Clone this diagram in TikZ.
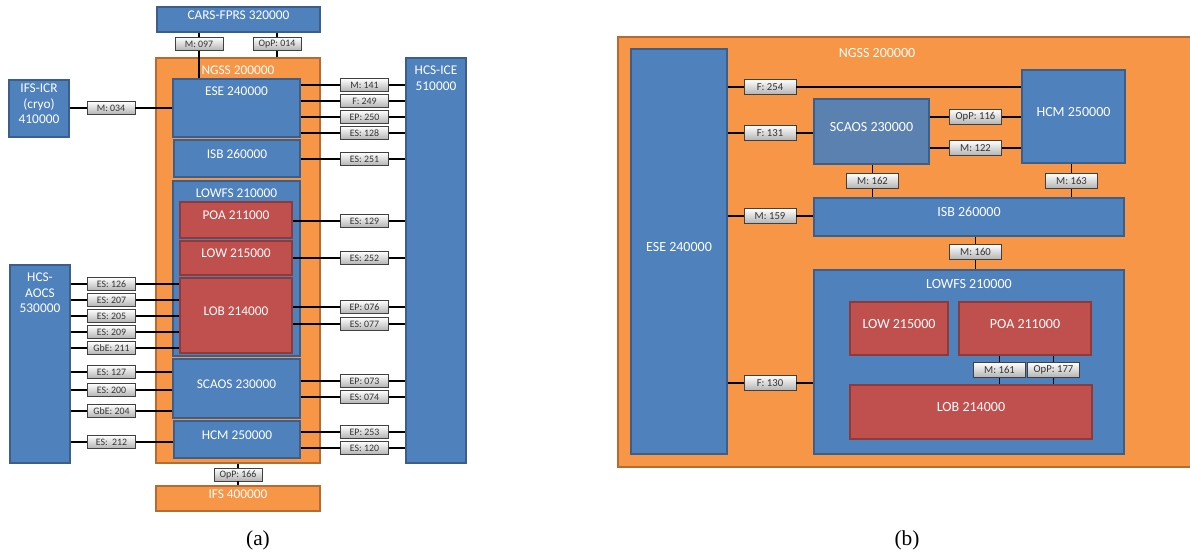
\documentclass[tikz,border=0pt]{standalone}
\usepackage{fontspec}
\setmainfont{Carlito}
\newfontfamily\capfont{Liberation Serif}
\usetikzlibrary{fit,shadows}
\definecolor{orF}{HTML}{F79646}
\definecolor{orD}{HTML}{B86B30}
\definecolor{blF}{HTML}{4F81BD}
\definecolor{blD}{HTML}{3A5F8C}
\definecolor{blS}{HTML}{5B81B1}
\definecolor{rdF}{HTML}{C0504D}
\definecolor{rdD}{HTML}{8E3A38}
\tikzset{
  boxbase/.style={rectangle, inner sep=0pt, line width=1pt, text=white, font=\fontsize{10}{11.6}\selectfont, align=center},
  ora/.style={boxbase, fill=orF, draw=orD},
  blu/.style={boxbase, fill=blF, draw=blD},
  blus/.style={boxbase, fill=blS, draw=blD},
  red/.style={boxbase, fill=rdF, draw=rdD},
  big/.style={font=\fontsize{10.5}{12}\selectfont},
  ttl/.style={text=white, font=\fontsize{10}{11.6}\selectfont, inner sep=0pt, align=center},
  lbl/.style={rectangle, inner sep=0pt, top color=white, bottom color=black!30, draw=black!75, line width=0.6pt,
    font=\fontsize{7.4}{8}\selectfont, text=black!80, minimum width=36pt, minimum height=9.75pt,
    drop shadow={shadow xshift=0.6pt, shadow yshift=-0.6pt, opacity=0.45}},
  lblb/.style={lbl, minimum width=39pt, minimum height=11.25pt, font=\fontsize{8}{9}\selectfont},
  conn/.style={draw=black, line width=0.9pt},
  capt/.style={font=\capfont\fontsize{16}{18}\selectfont, inner sep=0pt}
}
\begin{document}
\begin{tikzpicture}[x=0.75pt,y=-0.75pt]
\useasboundingbox (0,0) rectangle (1190,556);
\begin{scope}
\clip (0,0) rectangle (1190,556);
% ================= (a) =================
\node[ora, fit={(156,58)(320,463)}] (ngss) {};
\node[ttl] (ngssT) at (238,70) {NGSS 200000};
\node[blu, fit={(157,7)(320,32)}] (cars) {CARS-FPRS 320000};
\node[blu, fit={(173,79)(300,137)}] (ese) {};
\node[ttl] (eseT) at (236.5,91) {ESE 240000};
\node[blu, fit={(174,140)(300,177)}] (isb) {ISB 260000};
\node[blu, fit={(173,181)(300,356)}] (lowfs) {};
\node[ttl] (lowfsT) at (236.5,193) {LOWFS 210000};
\node[red, fit={(180,202)(292,238)}] (poa) {POA 211000};
\node[red, fit={(180,241)(292,275)}] (low) {LOW 215000};
\node[red, fit={(180,278)(292,353)}] (lob) {LOB 214000};
\node[blu, fit={(173,359)(300,418)}] (scaos) {SCAOS 230000};
\node[blu, fit={(174,421)(300,458)}] (hcm) {HCM 250000};
\node[blu, fit={(9,80)(69,137)}] (ifsicr) {IFS-ICR\\(cryo)\\410000};
\node[blu, fit={(10,265)(70,463)}] (aocs) {};
\node[ttl] (aocsT) at (40,293) {HCS-\\AOCS\\530000};
\node[blu, fit={(406,58)(466,463)}] (ice) {};
\node[ttl] (iceT) at (436,78) {HCS-ICE\\510000};
\node[ora, fit={(156,486)(320,511)}] (ifs) {IFS 400000};

% top labels
\node[lbl] (m097) at (199,44) {M: 097};
\node[lbl] (opp014) at (277,44) {OpP: 014};
\draw[conn] (cars.south -| m097) -- (m097.north);
\draw[conn] (m097.south) -- (ese.north -| m097);
\draw[conn] (cars.south -| opp014) -- (opp014.north);
\draw[conn] (opp014.south) -- (ngss.north -| opp014);
% bottom label
\node[lbl] (opp166) at (238,474.5) {OpP: 166};
\draw[conn] (ngss.south -| opp166) -- (opp166.north);
\draw[conn] (opp166.south) -- (ifs.north -| opp166);

% left labels
\foreach \n/\t/\y/\dst in {m034/M: 034/108/ese}{
  \node[lbl] (\n) at (111,\y) {\t};
  \draw[conn] (ifsicr.east |- \n) -- (\n.west);
  \draw[conn] (\n.east) -- (\dst.west |- \n);
}
\foreach \n/\t/\y/\dst in {es126/ES: 126/284/lob, es207/ES: 207/300/lob, es205/ES: 205/316/lob,
  es209/ES: 209/332/lob, gbe211/GbE: 211/348/lob, es127/ES: 127/372/scaos, es200/ES: 200/390/scaos,
  gbe204/GbE: 204/411/scaos, es212/ES:\ \ 212/442/hcm}{
  \node[lbl] (\n) at (111.5,\y) {\t};
  \draw[conn] (aocs.east |- \n) -- (\n.west);
  \draw[conn] (\n.east) -- (\dst.west |- \n);
}
% right labels
\foreach \n/\t/\y/\src in {m141/M: 141/85/ese, f249/F: 249/101/ese, ep250/EP: 250/117/ese, es128/ES: 128/133/ese,
  es251/ES: 251/159/isb, es129/ES: 129/221/poa, es252/ES: 252/258/low, ep076/EP: 076/307/lob, es077/ES: 077/324/lob,
  ep073/EP: 073/381/scaos, es074/ES: 074/397/scaos, ep253/EP: 253/432/hcm, es120/ES: 120/448/hcm}{
  \node[lbl] (\n) at (364.5,\y) {\t};
  \draw[conn] (\src.east |- \n) -- (\n.west);
  \draw[conn] (\n.east) -- (ice.west |- \n);
}
\node[capt] (capa) at (258,540) {(a)};

% ================= (b) =================
\node[ora, fit={(618,37)(1196,467)}] (ngssb) {};
\node[ttl, big] (ngssbT) at (877,53) {NGSS 200000};
\node[blu, big, fit={(631,49)(727,454)}] (eseb) {ESE 240000};
\node[blu, big, fit={(1022,70)(1125,163)}] (hcmb) {HCM 250000};
\node[blus, big, fit={(814,99)(929,164)}] (scaosb) {SCAOS 230000};
\node[blu, big, fit={(814,198)(1124,236)}] (isbb) {ISB 260000};
\node[blu, fit={(814,270)(1124,454)}] (lowfsb) {};
\node[ttl, big] (lowfsbT) at (969,284) {LOWFS 210000};
\node[red, big, fit={(850,302)(948,355)}] (lowb) {LOW 215000};
\node[red, big, fit={(959,302)(1091,355)}] (poab) {POA 211000};
\node[red, big, fit={(850,385)(1092,439)}] (lobb) {LOB 214000};

\foreach \n/\t/\y/\dst in {f254/F: 254/87/hcmb, f131/F: 131/133/scaosb, m159/M: 159/216/isbb, f130/F: 130/383/lowfsb}{
  \node[lblb] (\n) at (770,\y) {\t};
  \draw[conn] (eseb.east |- \n) -- (\n.west);
  \draw[conn] (\n.east) -- (\dst.west |- \n);
}
\foreach \n/\t/\y in {opp116/OpP: 116/117, m122/M: 122/148}{
  \node[lblb] (\n) at (975.5,\y) {\t};
  \draw[conn] (scaosb.east |- \n) -- (\n.west);
  \draw[conn] (\n.east) -- (hcmb.west |- \n);
}
\node[lblb] (m162) at (872.5,181) {M: 162};
\draw[conn] (scaosb.south -| m162) -- (m162.north);
\draw[conn] (m162.south) -- (isbb.north -| m162);
\node[lblb] (m163) at (1071.5,181) {M: 163};
\draw[conn] (hcmb.south -| m163) -- (m163.north);
\draw[conn] (m163.south) -- (isbb.north -| m163);
\node[lblb] (m160) at (975.5,252) {M: 160};
\draw[conn] (isbb.south -| m160) -- (m160.north);
\draw[conn] (m160.south) -- (lowfsb.north -| m160);
\node[lblb] (m161) at (999.5,370) {M: 161};
\draw[conn] (poab.south -| m161) -- (m161.north);
\draw[conn] (m161.south) -- (lobb.north -| m161);
\node[lblb] (opp177) at (1053.5,370) {OpP: 177};
\draw[conn] (poab.south -| opp177) -- (opp177.north);
\draw[conn] (opp177.south) -- (lobb.north -| opp177);
\node[capt] (captb) at (907,540) {(b)};
\end{scope}
\end{tikzpicture}
\end{document}
